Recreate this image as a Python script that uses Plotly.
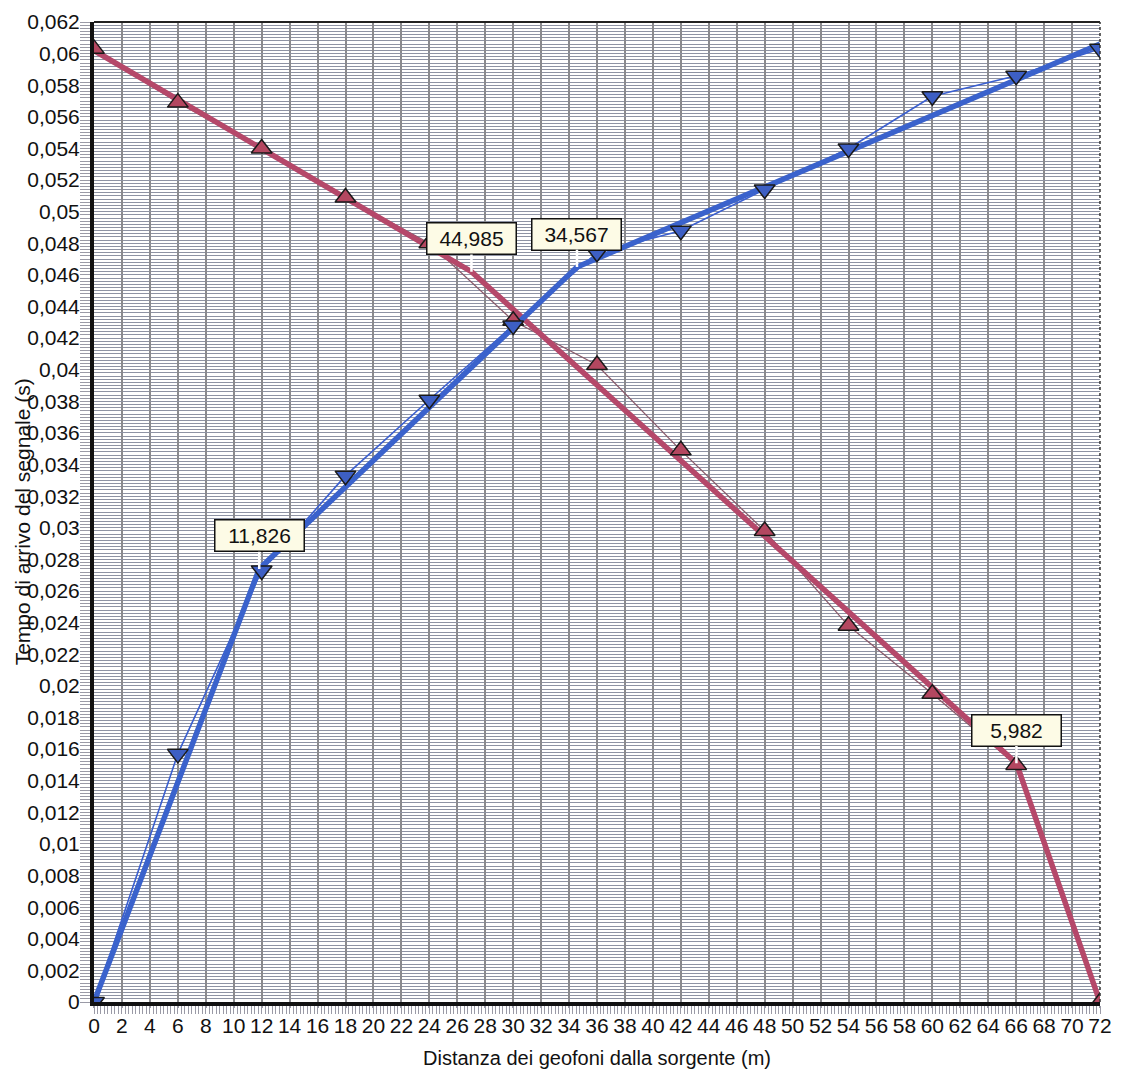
import plotly.graph_objects as go

# ---------------- data ----------------
distanze = [0, 6, 12, 18, 24, 30, 36, 42, 48, 54, 60, 66, 72]
# direct shot (source at 0 m) - blue, triangle-down
tempi_diretto = [0.0, 0.0157, 0.0273, 0.0333, 0.0381, 0.0428, 0.0474, 0.0488,
                 0.0514, 0.0540, 0.0573, 0.0586, 0.0603]
# reverse shot (source at 72 m) - red, triangle-up
tempi_inverso = [0.0603, 0.0569, 0.0540, 0.0509, 0.0480, 0.0431, 0.0403, 0.0349,
                 0.0298, 0.0238, 0.0195, 0.0150, 0.0]

# fitted segments (dromocrone) - breakpoints
fit_diretto_x = [0.0, 11.826, 34.567, 72.0]
fit_diretto_t = [0.0, 0.0274, 0.0465, 0.0606]
fit_inverso_x = [72.0, 72 - 5.982, 72 - 44.985, 0.0]
fit_inverso_t = [0.0, 0.0151, 0.0462, 0.0602]

# breakpoint labels
etichette_testo = ["11,826", "34,567", "44,985", "5,982"]
etichette_x = [11.826, 34.567, 72 - 44.985, 72 - 5.982]
etichette_t = [0.0274, 0.0465, 0.0462, 0.0151]
etichette_ax = [0, 0, 0, 0]

x_tick_vals = list(range(0, 73, 2))
x_tick_text = [str(v) for v in x_tick_vals]
y_tick_text = ["0", "0,002", "0,004", "0,006", "0,008", "0,01", "0,012", "0,014",
               "0,016", "0,018", "0,02", "0,022", "0,024", "0,026", "0,028", "0,03",
               "0,032", "0,034", "0,036", "0,038", "0,04", "0,042", "0,044", "0,046",
               "0,048", "0,05", "0,052", "0,054", "0,056", "0,058", "0,06", "0,062"]
y_tick_vals = [i * 0.002 for i in range(len(y_tick_text))]

# ---------------- style ----------------
FONT = "Liberation Sans, Arial, sans-serif"
FS = 21
RED = "#b5486a"
RED_THIN = "#8a5b6b"
RED_MARK = "#b44760"
BLUE = "#3a62cc"
BLUE_THIN = "#3a5fd0"
BLUE_MARK = "#3d5fc4"
GRID = "#8e93a4"
TICK = "#9a9aa6"

fig = go.Figure()

# thin lines joining measured points
fig.add_trace(go.Scatter(x=distanze, y=tempi_inverso, mode="lines",
                         line=dict(color=RED_THIN, width=1.3), showlegend=False))
fig.add_trace(go.Scatter(x=distanze, y=tempi_diretto, mode="lines",
                         line=dict(color=BLUE_THIN, width=1.6), showlegend=False))

# thick fitted segments
fig.add_trace(go.Scatter(x=fit_inverso_x, y=fit_inverso_t, mode="lines",
                         line=dict(color=RED, width=5.5), showlegend=False))
fig.add_trace(go.Scatter(x=fit_diretto_x, y=fit_diretto_t, mode="lines",
                         line=dict(color=BLUE, width=5.5), showlegend=False))

# markers
fig.add_trace(go.Scatter(x=distanze, y=tempi_inverso, mode="markers",
                         marker=dict(symbol="triangle-up", size=18, color=RED_MARK,
                                     line=dict(color="#1a1a1a", width=1.5)),
                         showlegend=False))
fig.add_trace(go.Scatter(x=distanze, y=tempi_diretto, mode="markers",
                         marker=dict(symbol="triangle-down", size=18, color=BLUE_MARK,
                                     line=dict(color="#1a1a1a", width=1.5)),
                         showlegend=False))

annotations = []
for txt, xx, yy, axo in zip(etichette_testo, etichette_x, etichette_t, etichette_ax):
    annotations.append(dict(
        x=xx, y=yy, xref="x", yref="y", text=txt,
        showarrow=True, arrowhead=0, arrowcolor="white", arrowwidth=2.5,
        ax=axo, ay=-33,
        bgcolor="#fdfbe6", bordercolor="#111111", borderwidth=1.5,
        borderpad=2, width=84, height=26,
        font=dict(family=FONT, size=FS, color="#111111"),
    ))

annotations.append(dict(
    text="Tempo di arrivo del segnale (s)", textangle=-90,
    xref="paper", yref="paper", x=-0.071, y=0.49, xanchor="center",
    yanchor="middle", showarrow=False,
    font=dict(family=FONT, size=FS, color="#111111"),
))

fig.update_layout(
    width=1105, height=1064,
    margin=dict(l=86, r=13, t=14, b=70),
    paper_bgcolor="white", plot_bgcolor="white",
    font=dict(family=FONT, size=FS, color="#111111"),
    annotations=annotations,
    xaxis=dict(
        range=[0, 72], tickvals=x_tick_vals, ticktext=x_tick_text,
        ticklabeloverflow="allow", automargin=False,
        showgrid=True, gridcolor="#8a8a8e", gridwidth=2,
        ticks="outside", ticklen=2, tickcolor=TICK, tickwidth=1.5,
        minor=dict(dtick=0.25, ticks="outside", ticklen=8, tickcolor=TICK,
                   tickwidth=1.2, showgrid=False),
        showline=True, linecolor="#111111", linewidth=4, mirror=False,
        zeroline=False,
        tickfont=dict(family=FONT, size=FS, color="#111111"),
        title=dict(text="Distanza dei geofoni dalla sorgente (m)", standoff=16,
                   font=dict(family=FONT, size=FS - 1, color="#111111")),
    ),
    yaxis=dict(
        range=[0, 0.062], tickvals=y_tick_vals, ticktext=y_tick_text,
        ticklabeloverflow="allow", automargin=False,
        showgrid=True, gridcolor=GRID, gridwidth=1.4,
        ticks="outside", ticklen=6, tickcolor=TICK, tickwidth=1.4,
        minor=dict(dtick=0.0002, ticks="outside", ticklen=10, tickcolor=TICK,
                   tickwidth=1.2, showgrid=True, gridcolor=GRID, gridwidth=1.4),
        showline=True, linecolor="#111111", linewidth=4, mirror=False,
        zeroline=False,
        tickfont=dict(family=FONT, size=FS, color="#111111"),
    ),
    shapes=[
        dict(type="line", xref="paper", yref="paper", x0=0, x1=1, y0=1, y1=1,
             line=dict(color="#222222", width=2)),
        dict(type="line", xref="paper", yref="paper", x0=1, x1=1, y0=0, y1=1,
             line=dict(color="#333333", width=1.5, dash="dot")),
    ],
)

fig.write_html("out.html")
